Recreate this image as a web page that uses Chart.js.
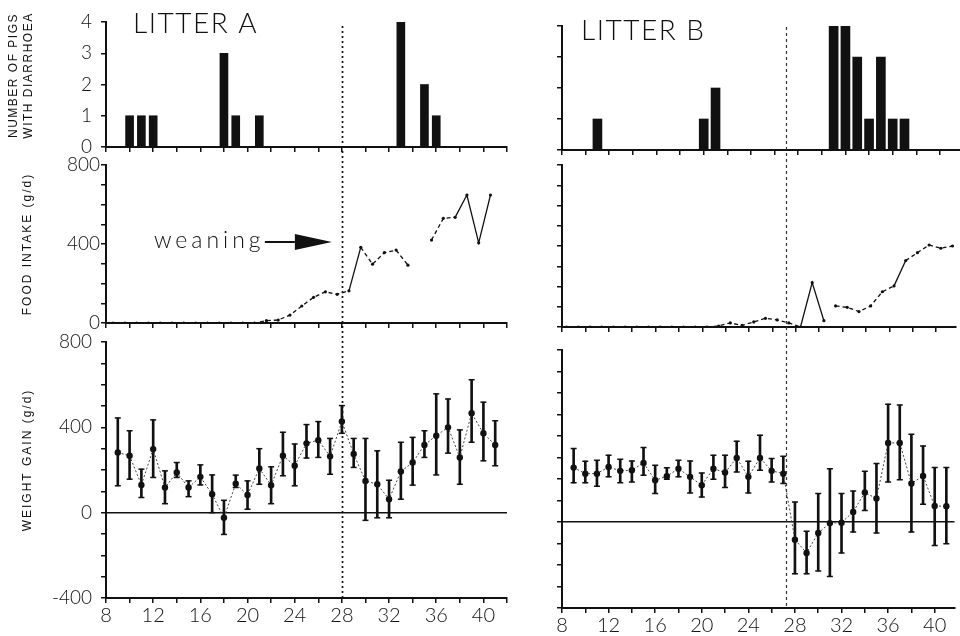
<!DOCTYPE html>
<html>
<head>
<meta charset="utf-8">
<script src="https://cdn.jsdelivr.net/npm/chart.js@4.4.1/dist/chart.umd.min.js"></script>
<style>
  html, body { margin: 0; padding: 0; background: #fff; }
  #wrap { position: relative; width: 960px; height: 636px; overflow: hidden; background: #fff; }
  #wrap canvas { position: absolute; left: 0; top: 0; }
</style>
</head>
<body>
<div id="wrap">
  <canvas id="diarA" width="960" height="636"></canvas>
  <canvas id="foodA" width="960" height="636"></canvas>
  <canvas id="gainA" width="960" height="636"></canvas>
  <canvas id="diarB" width="960" height="636"></canvas>
  <canvas id="foodB" width="960" height="636"></canvas>
  <canvas id="gainB" width="960" height="636"></canvas>
</div>
<script>
// ---- data ----
const diarDaysA = [10, 11, 12, 18, 19, 21, 33, 35, 36];
const diarPigsA = [1, 1, 1, 3, 1, 1, 4, 2, 1];
const diarDaysB = [11, 20, 21, 31, 32, 33, 34, 35, 36, 37];
const diarPigsB = [1, 1, 2, 4, 4, 3, 1, 3, 1, 1];

const foodDaysA = [8.6, 9.6, 10.6, 11.6, 12.6, 13.6, 14.6, 15.6, 16.6, 17.6, 18.6, 19.6, 20.6,
  21.6, 22.6, 23.6, 24.6, 25.6, 26.6, 27.6, 28.6, 29.6, 30.6, 31.6, 32.6, 33.6, 34.6,
  35.6, 36.6, 37.6, 38.6, 39.6, 40.6];
const foodA = [0, 0, 0, 0, 0, 0, 0, 0, 0, 0, 0, 0, 0,
  12, 15, 40, 86, 130, 158, 145, 163, 383, 298, 356, 369, 293, null,
  420, 530, 535, 648, 406, 648];

const foodDaysB = [8.4, 9.4, 10.4, 11.4, 12.4, 13.4, 14.4, 15.4, 16.4, 17.4, 18.4, 19.4, 20.4,
  21.4, 22.4, 23.4, 24.4, 25.4, 26.4, 27.4, 28.4, 29.4, 30.4, 31.4, 32.4, 33.4, 34.4,
  35.4, 36.4, 37.4, 38.4, 39.4, 40.4, 41.4];
const foodB = [0, 0, 0, 0, 0, 0, 0, 0, 0, 0, 0, 0, 0,
  5, 20, 8, 25, 43, 35, 20, 0, 219, 31, 104, 97, 76, 104,
  174, 203, 328, 367, 405, 389, 400];
const foodBreaksB = [30.4];

const gainDays = [9, 10, 11, 12, 13, 14, 15, 16, 17, 18, 19, 20, 21, 22, 23, 24, 25,
  26, 27, 28, 29, 30, 31, 32, 33, 34, 35, 36, 37, 38, 39, 40, 41];
const gainA = [282, 267, 130, 298, 118, 188, 118, 168, 86, -24, 136, 83, 207, 129, 267, 220, 325,
  340, 264, 427, 275, 149, 133, 63, 193, 235, 317, 361, 400, 259, 466, 372, 317];
const gainHiA = [444, 384, 204, 435, 196, 235, 149, 224, 177, 58, 176, 149, 300, 215, 377, 322, 413,
  427, 348, 502, 348, 348, 290, 152, 330, 353, 384, 557, 533, 388, 623, 518, 431];
const gainLoA = [126, 157, 71, 165, 42, 165, 75, 130, 0, -102, 118, 16, 133, 42, 173, 126, 256,
  259, 180, 372, 212, -36, -24, -24, 63, 129, 259, 177, 279, 133, 330, 243, 220];
const gainB = [253, 225, 225, 256, 238, 241, 275, 194, 213, 248, 210, 171, 248, 230, 298, 210, 298,
  238, 225, -82, -144, -51, -5, -3, 47, 137, 109, 368, 368, 179, 214, 75, 73];
const gainHiB = [342, 283, 287, 311, 292, 284, 346, 264, 252, 287, 284, 228, 311, 311, 376, 283, 404,
  295, 306, 93, -43, 132, 248, 132, 144, 236, 272, 548, 544, 408, 354, 253, 253];
const gainLoB = [182, 182, 166, 210, 183, 186, 217, 132, 199, 210, 135, 116, 199, 160, 233, 135, 241,
  186, 179, -241, -241, -228, -253, -144, -47, 54, -51, 186, 197, -47, 82, -109, -101];

const weaningA = 28;
const weaningB = 27.2;

// ---- layout ----
const W = 960, H = 636;
const INK = "#111";
const FONT = "Lato";

const boxTL = { left: 106, right: 507, top: 22, bottom: 147, yW: 106, xH: 10 };
const boxML = { left: 106, right: 507, top: 165, bottom: 323, yW: 106, xH: 10 };
const boxBL = { left: 106, right: 507, top: 342, bottom: 598, yW: 106, xH: 38 };
const boxTR = { left: 562, right: 960, top: 26, bottom: 150, yW: 32, xH: 10 };
const boxMR = { left: 562, right: 960, top: 165, bottom: 327, yW: 32, xH: 10 };
const boxBR = { left: 562, right: 960, top: 350, bottom: 608, yW: 32, xH: 28 };

Chart.defaults.font.family = FONT;
Chart.defaults.color = INK;
Chart.defaults.animation = false;

function pad(box) {
  return { top: box.top, left: box.left - box.yW, right: W - box.right, bottom: H - box.bottom - box.xH };
}

function xAxis(box, max, showLabels) {
  return {
    type: "linear", min: 8, max: max, offset: false,
    afterFit: (s) => { s.height = box.xH; },
    afterBuildTicks: (s) => { s.ticks = s.ticks.filter((t) => t.value % 2 === 0); },
    border: { color: INK, width: 2 },
    grid: { drawOnChartArea: false, offset: false, color: INK, tickLength: 5, lineWidth: 1.5 },
    ticks: {
      display: showLabels, stepSize: 2, includeBounds: false, autoSkip: false, maxRotation: 0, padding: 1,
      font: { size: 20, weight: 300 }, color: INK,
      callback: (v) => (v % 4 === 0 ? v : ""),
    },
  };
}

function yAxis(box, min, max, step, opts) {
  const labelEvery = opts.labelEvery;
  const zeroLine = opts.zeroLine;
  return {
    type: "linear", min: min, max: max,
    afterFit: (s) => { s.width = box.yW; },
    border: { color: INK, width: 2 },
    grid: {
      drawOnChartArea: !!zeroLine,
      color: (c) => (zeroLine && c.tick && c.tick.value === 0 ? INK : "rgba(0,0,0,0)"),
      lineWidth: 1.5,
      tickColor: INK, tickWidth: 1.5, tickLength: 5,
    },
    ticks: {
      display: !!labelEvery, stepSize: step, autoSkip: false, padding: opts.tickPad || 8,
      font: { size: 19, weight: 300 }, color: INK,
      callback: (v) => (labelEvery && v % labelEvery === 0 ? v : ""),
    },
  };
}

// dashed where the line is flat, solid where it climbs steeply (as in the scan)
function dashBySlope(c) {
  return Math.abs(c.p1.y - c.p0.y) > 22 ? [] : [4, 3];
}

// annotations drawn on top of a panel: titles, weaning line, arrow
function decor(cfg) {
  return {
    id: "decor",
    afterDraw(chart) {
      const ctx = chart.ctx;
      const x = chart.scales.x, y = chart.scales.y;
      ctx.save();
      ctx.fillStyle = INK;
      if (cfg.label) {
        ctx.font = "300 28px " + FONT;
        ctx.letterSpacing = "1.5px";
        ctx.textBaseline = "alphabetic";
        ctx.fillText(cfg.label.text, cfg.label.x, cfg.label.y);
      }
      if (cfg.yTitle) {
        const lines = [].concat(cfg.yTitle.text);
        const cy = (chart.chartArea.top + chart.chartArea.bottom) / 2 + cfg.yTitle.shift;
        ctx.font = "12px 'Liberation Sans'";
        ctx.letterSpacing = cfg.yTitle.spacing + "px";
        ctx.textAlign = "center";
        ctx.textBaseline = "middle";
        lines.forEach((t, i) => {
          ctx.save();
          ctx.translate(cfg.yTitle.x + i * 15, cy);
          ctx.rotate(-Math.PI / 2);
          ctx.fillText(t, 0, 0);
          ctx.restore();
        });
      }
      if (cfg.weaning) {
        const px = Math.round(x.getPixelForValue(cfg.weaning.day)) + 0.5;
        ctx.strokeStyle = cfg.weaning.color;
        ctx.lineWidth = cfg.weaning.width;
        ctx.setLineDash(cfg.weaning.dash);
        ctx.beginPath();
        ctx.moveTo(px, cfg.weaning.from);
        ctx.lineTo(px, chart.chartArea.bottom);
        ctx.stroke();
        ctx.setLineDash([]);
      }
      if (cfg.arrow) {
        const tipX = x.getPixelForValue(cfg.arrow.day) - 10;
        const ay = y.getPixelForValue(cfg.arrow.value);
        ctx.strokeStyle = INK;
        ctx.beginPath();
        ctx.moveTo(tipX, ay);
        ctx.lineTo(tipX - 37, ay - 8);
        ctx.lineTo(tipX - 37, ay + 8);
        ctx.closePath();
        ctx.fill();
        ctx.lineWidth = 2;
        ctx.beginPath();
        ctx.moveTo(tipX - 37, ay);
        ctx.lineTo(tipX - 67, ay);
        ctx.stroke();
        ctx.font = "300 23px " + FONT;
        ctx.letterSpacing = "4px";
        ctx.textAlign = "left";
        ctx.textBaseline = "middle";
        ctx.fillText(cfg.arrow.text, tipX - 178, ay - 1);
      }
      ctx.restore();
    },
  };
}

function diarChart(id, box, days, pigs, yOpts, xMax, deco) {
  return new Chart(document.getElementById(id), {
    type: "bar",
    data: {
      datasets: [{
        data: days.map((d, i) => ({ x: d, y: pigs[i] })),
        backgroundColor: INK, borderWidth: 0, barThickness: box === boxTL ? 8 : 9,
      }],
    },
    options: {
      responsive: false, devicePixelRatio: 1,
      layout: { padding: pad(box) },
      plugins: { legend: { display: false }, tooltip: { enabled: false } },
      scales: { x: xAxis(box, xMax, false), y: yAxis(box, 0, 4, 1, yOpts) },
    },
    plugins: [decor(deco)],
  });
}

function foodChart(id, box, days, vals, breaks, yOpts, xMax, deco) {
  return new Chart(document.getElementById(id), {
    type: "line",
    data: {
      datasets: [{
        data: days.map((d, i) => ({ x: d, y: vals[i] })),
        borderColor: INK, borderWidth: 1.3,
        pointRadius: 1.6, pointBackgroundColor: INK, pointBorderWidth: 0,
        spanGaps: false, tension: 0,
        segment: {
          borderDash: dashBySlope,
          borderColor: (c) => (breaks.includes(c.p0.parsed.x) ? "rgba(0,0,0,0)" : INK),
        },
      }],
    },
    options: {
      responsive: false, devicePixelRatio: 1,
      layout: { padding: pad(box) },
      plugins: { legend: { display: false }, tooltip: { enabled: false } },
      scales: { x: xAxis(box, xMax, false), y: yAxis(box, 0, 800, 100, yOpts) },
    },
    plugins: [decor(deco)],
  });
}

function gainChart(id, box, mean, hi, lo, yOpts, xMax, deco) {
  return new Chart(document.getElementById(id), {
    type: "line",
    data: {
      datasets: [
        {
          data: gainDays.map((d, i) => ({ x: d, y: mean[i] })),
          borderColor: "#444", borderWidth: 1, borderDash: [2, 2],
          pointRadius: 3.2, pointBackgroundColor: INK, pointBorderWidth: 0, tension: 0,
        },
        {
          data: gainDays.map((d, i) => ({ x: d, y: hi[i] })),
          showLine: false, pointStyle: "line", pointRadius: 3,
          pointBorderColor: INK, pointBorderWidth: 1.5,
        },
        {
          data: gainDays.map((d, i) => ({ x: d, y: lo[i] })),
          showLine: false, pointStyle: "line", pointRadius: 3,
          pointBorderColor: INK, pointBorderWidth: 1.5,
        },
        {
          type: "bar",
          data: gainDays.map((d, i) => ({ x: d, y: [lo[i], hi[i]] })),
          backgroundColor: INK, borderWidth: 0, barThickness: 2,
        },
      ],
    },
    options: {
      responsive: false, devicePixelRatio: 1,
      layout: { padding: pad(box) },
      plugins: { legend: { display: false }, tooltip: { enabled: false } },
      scales: { x: xAxis(box, xMax, true), y: yAxis(box, -400, 800, 100, yOpts) },
    },
    plugins: [decor(deco)],
  });
}

// ---- litter A ----
diarChart("diarA", boxTL, diarDaysA, diarPigsA, { labelEvery: 1, tickPad: 9 }, 42, {
  label: { text: "LITTER A", x: 133, y: 33 },
  yTitle: { text: ["NUMBER OF PIGS", "WITH DIARRHOEA"], x: 14, shift: -9, spacing: 1.5 },
});
foodChart("foodA", boxML, foodDaysA, foodA, [], { labelEvery: 400, tickPad: 1 }, 42, {
  yTitle: { text: "FOOD INTAKE (g/d)", x: 28, shift: 0, spacing: 2 },
  arrow: { day: weaningA, value: 410, text: "weaning" },
});
gainChart("gainA", boxBL, gainA, gainHiA, gainLoA, { labelEvery: 400, tickPad: 9, zeroLine: true }, 42, {
  yTitle: { text: "WEIGHT GAIN (g/d)", x: 28, shift: -10, spacing: 2 },
  weaning: { day: weaningA, from: 26, color: INK, width: 1.7, dash: [2, 3] },
});

// ---- litter B ----
diarChart("diarB", boxTR, diarDaysB, diarPigsB, {}, 41.7, {
  label: { text: "LITTER B", x: 581, y: 40 },
});
foodChart("foodB", boxMR, foodDaysB, foodB, foodBreaksB, {}, 41.7, {});
gainChart("gainB", boxBR, gainB, gainHiB, gainLoB, { zeroLine: true }, 41.7, {
  weaning: { day: weaningB, from: 27, color: "#333", width: 1.2, dash: [3, 3] },
});
</script>
</body>
</html>
